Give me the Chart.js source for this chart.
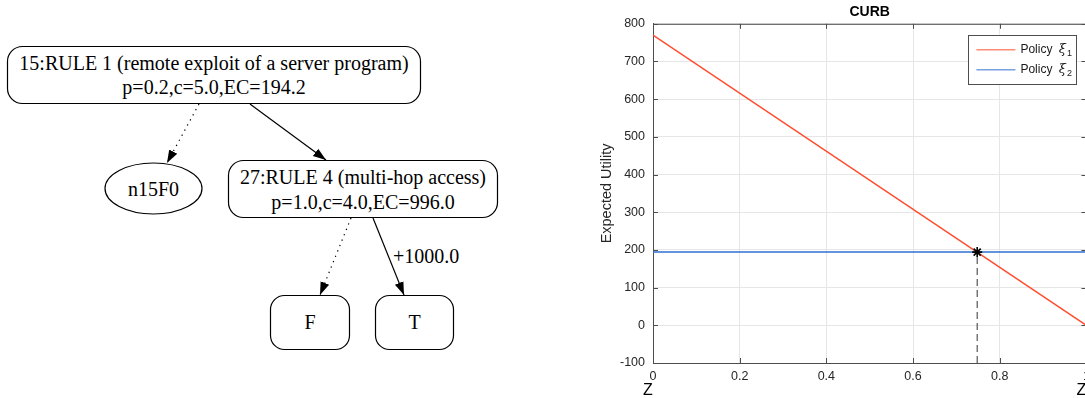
<!DOCTYPE html>
<html>
<head>
<meta charset="utf-8">
<script src="https://cdn.jsdelivr.net/npm/chart.js@4/dist/chart.umd.min.js"></script>
<style>
html, body { margin:0; padding:0; background:#fff; width:1085px; height:398px; overflow:hidden; position:relative; }
#tree { position:absolute; left:0; top:0; }
#wrap { position:absolute; left:590px; top:0; width:503px; height:398px; }
#tree text { font-family:"Liberation Serif", "Times New Roman", serif; font-size:20px; fill:#000; }
</style>
</head>
<body>

<svg id="tree" width="560" height="398">
  <defs>
    <marker id="ah" viewBox="0 0 10 10" refX="10" refY="5" markerWidth="13" markerHeight="13" markerUnits="userSpaceOnUse" orient="auto">
      <path d="M0,1.5 L10,5 L0,8.5 z" fill="#000"/>
    </marker>
  </defs>
  <g fill="none" stroke="#000" stroke-width="1.2">
    <rect x="7.5" y="46.5" width="413" height="57" rx="15"/>
    <ellipse cx="153.5" cy="188.5" rx="48.5" ry="25.5"/>
    <rect x="228.5" y="160.5" width="269" height="57" rx="15"/>
    <rect x="270.5" y="295.5" width="79" height="54" rx="14"/>
    <rect x="375.5" y="295.5" width="78" height="54" rx="14"/>
    <line x1="199" y1="104" x2="167" y2="163" stroke-dasharray="1.3,4.5" marker-end="url(#ah)"/>
    <line x1="250" y1="104" x2="326" y2="160" marker-end="url(#ah)"/>
    <line x1="351" y1="218" x2="320" y2="295" stroke-dasharray="1.3,4.5" marker-end="url(#ah)"/>
    <line x1="373" y1="218" x2="404" y2="295" marker-end="url(#ah)"/>
  </g>
  <g dominant-baseline="central">
    <text x="214" y="63" text-anchor="middle">15:RULE 1 (remote exploit of a server program)</text>
    <text x="214" y="87" text-anchor="middle">p=0.2,c=5.0,EC=194.2</text>
    <text x="153.5" y="189" text-anchor="middle">n15F0</text>
    <text x="363" y="177" text-anchor="middle">27:RULE 4 (multi-hop access)</text>
    <text x="363" y="202" text-anchor="middle">p=1.0,c=4.0,EC=996.0</text>
    <text x="310" y="322" text-anchor="middle">F</text>
    <text x="414.5" y="322" text-anchor="middle">T</text>
    <text x="393" y="256">+1000.0</text>
  </g>
</svg>

<div id="wrap"><canvas id="mycanvas"></canvas></div>

<script>
// values
var zValues = [0, 1];
var policy1 = [770, 0];
var policy2 = [194.2, 194.2];
var crossZ = 0.748;
var crossU = 194.2;
var yFloor = -100;
var xTicks = [0, 0.2, 0.4, 0.6, 0.8, 1];
var yTicks = [-100, 0, 100, 200, 300, 400, 500, 600, 700, 800];
var zMarks = [0, 1];
var seriesLabels = ['Policy ξ1', 'Policy ξ2'];

var sans = '"Liberation Sans", Arial, Helvetica, sans-serif';

function pts(xs, ys) {
	var out = [];
	for (var i in xs) out.push({x: xs[i], y: ys[i]});
	return out;
}

// MATLAB style box with inward ticks
var boxPlugin = {
	id: 'box',
	beforeDatasetsDraw: function(chart) {
		var ctx = chart.ctx, a = chart.chartArea;
		var xs = chart.scales.x, ys = chart.scales.y;
		ctx.save();
		ctx.strokeStyle = '#4d4d4d';
		ctx.lineWidth = 1;
		ctx.beginPath();
		ctx.moveTo(a.left, a.top + 0.5); ctx.lineTo(a.right, a.top + 0.5);
		ctx.moveTo(a.right - 0.5, a.top); ctx.lineTo(a.right - 0.5, a.bottom);
		for (var i in xTicks) {
			var px = Math.round(xs.getPixelForValue(xTicks[i])) + 0.5;
			ctx.moveTo(px, a.bottom); ctx.lineTo(px, a.bottom - 5);
			ctx.moveTo(px, a.top); ctx.lineTo(px, a.top + 5);
		}
		for (var j in yTicks) {
			var py = Math.round(ys.getPixelForValue(yTicks[j])) + 0.5;
			ctx.moveTo(a.left, py); ctx.lineTo(a.left + 5, py);
			ctx.moveTo(a.right, py); ctx.lineTo(a.right - 5, py);
		}
		ctx.stroke();
		ctx.restore();
	},
	afterDraw: function(chart) {
		var ctx = chart.ctx, xs = chart.scales.x;
		ctx.save();
		ctx.fillStyle = '#000';
		ctx.font = '16px ' + sans;
		ctx.textAlign = 'center';
		ctx.textBaseline = 'middle';
		for (var i in zMarks) {
			ctx.fillText('Z', xs.getPixelForValue(zMarks[i]) - 5, 391);
		}
		ctx.restore();
	}
};

// boxed legend in the top right corner
var legendPlugin = {
	id: 'boxLegend',
	afterDraw: function(chart) {
		var ctx = chart.ctx, a = chart.chartArea;
		var w = 108, h = 49;
		var left = a.right - 10 - w, top = a.top + 11;
		ctx.save();
		ctx.fillStyle = '#fff';
		ctx.fillRect(left, top, w, h);
		ctx.strokeStyle = '#4d4d4d';
		ctx.lineWidth = 1;
		ctx.strokeRect(Math.round(left) + 0.5, Math.round(top) + 0.5, w, h);
		var items = chart.data.datasets.filter(function(d) { return d.label; });
		for (var i = 0; i < items.length; i++) {
			var d = items[i];
			var y = top + 15 + i * 20;
			ctx.globalAlpha = 0.65;
			ctx.strokeStyle = d.borderColor;
			ctx.lineWidth = 1.5;
			ctx.beginPath();
			ctx.moveTo(left + 8, y); ctx.lineTo(left + 47, y);
			ctx.stroke();
			ctx.globalAlpha = 1;
			var txt = d.label;
			var word = txt.slice(0, txt.length - 2);
			var sym = txt.charAt(txt.length - 2);
			var sub = txt.charAt(txt.length - 1);
			ctx.fillStyle = '#1a1a1a';
			ctx.textBaseline = 'middle';
			ctx.textAlign = 'left';
			ctx.font = '12px ' + sans;
			var x = left + 52;
			ctx.fillText(word, x, y);
			x += ctx.measureText(word).width + 3;
			ctx.font = 'italic 13px "DejaVu Serif", serif';
			ctx.fillText(sym, x, y);
			x += ctx.measureText(sym).width + 1;
			ctx.font = '9px ' + sans;
			ctx.fillText(sub, x, y + 4);
		}
		ctx.restore();
	}
};

var chartdata = {
	datasets: [
		{
			type: 'scatter',
			data: [{x: crossZ, y: crossU}],
			pointStyle: 'star',
			pointRadius: 5,
			borderColor: '#000',
			borderWidth: 1.6,
			backgroundColor: '#000',
			order: -1
		},
		{
			label: seriesLabels[0],
			data: pts(zValues, policy1),
			borderColor: '#ff4d2e',
			backgroundColor: '#ff4d2e',
			borderWidth: 1.5,
			pointRadius: 0,
			fill: false
		},
		{
			label: seriesLabels[1],
			data: pts(zValues, policy2),
			borderColor: '#2f6fd0',
			backgroundColor: '#2f6fd0',
			borderWidth: 1.5,
			pointRadius: 0,
			fill: false
		},
		{
			data: [{x: crossZ, y: yFloor}, {x: crossZ, y: crossU}],
			borderColor: '#333',
			borderWidth: 1,
			borderDash: [7, 4],
			pointRadius: 0,
			fill: false
		}
	]
};

var ctx = document.getElementById('mycanvas');

var LineGraph = new Chart(ctx, {
	type: 'line',
	data: chartdata,
	plugins: [boxPlugin, legendPlugin],
	options: {
		responsive: true,
		maintainAspectRatio: false,
		animation: false,
		layout: { padding: 0 },
		plugins: {
			legend: { display: false },
			tooltip: { enabled: false },
			title: {
				display: true,
				text: 'CURB',
				fullSize: false,
				color: '#000',
				font: { family: sans, size: 14, weight: 'bold' },
				padding: { top: 4, bottom: 3 }
			}
		},
		scales: {
			x: {
				type: 'linear',
				min: 0,
				max: 1,
				afterBuildTicks: function(s) { s.ticks = xTicks.map(function(v) { return {value: v}; }); },
				afterFit: function(s) { s.height = 35; s.paddingLeft = 0; s.paddingRight = 0; },
				ticks: {
					color: '#262626',
					font: { family: sans, size: 12.5 },
					padding: 6,
					maxRotation: 0,
					callback: function(v) { return String(Math.round(v * 10) / 10); }
				},
				grid: { color: '#e6e6e6', drawTicks: false },
				border: { color: '#4d4d4d' }
			},
			y: {
				min: -100,
				max: 800,
				afterBuildTicks: function(s) { s.ticks = yTicks.map(function(v) { return {value: v}; }); },
				afterFit: function(s) { s.width = 63; s.paddingTop = 0; s.paddingBottom = 0; },
				ticks: {
					color: '#262626',
					font: { family: sans, size: 12.5 },
					padding: 8
				},
				grid: { color: '#e6e6e6', drawTicks: false },
				border: { color: '#4d4d4d' },
				title: {
					display: true,
					text: 'Expected Utility',
					color: '#262626',
					font: { family: sans, size: 14.5 },
					padding: { top: 8, bottom: 0 }
				}
			}
		}
	}
});
</script>
</body>
</html>
